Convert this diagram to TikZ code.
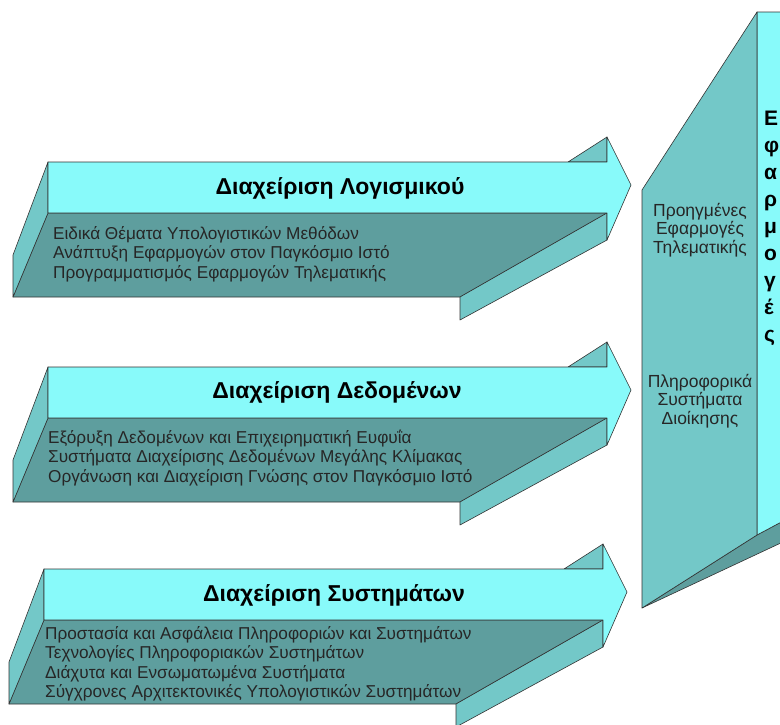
\documentclass[tikz,border=0pt]{standalone}
\usepackage{fontspec}
\setmainfont{Liberation Sans}
\usetikzlibrary{calc}

\definecolor{lightcyan}{RGB}{136,250,250}
\definecolor{midteal}{RGB}{115,200,200}
\definecolor{darkteal}{RGB}{94,158,158}

\begin{document}
\begin{tikzpicture}[x=1pt,y=-1pt,
    face/.style={draw=black!80,line width=0.6pt,line join=round},
    title/.style={font=\fontsize{23}{26}\selectfont\bfseries,inner sep=0pt},
    course/.style={font=\fontsize{17.2}{19.5}\selectfont,align=left,anchor=west,inner sep=0pt,text=black!85},
    blocktext/.style={font=\fontsize{17.5}{18.5}\selectfont,align=center,inner sep=0pt,text=black!85},
    sidetext/.style={font=\fontsize{21}{27}\selectfont\bfseries,align=left,anchor=north west,inner sep=0pt}]

    % Frame
    \useasboundingbox (0,0) rectangle (780,724);
    \clip (0,0) rectangle (780,724);

    % Three arrows (same outline, shifted down)
    \foreach \dx/\dy in {0/0, 0/205, -4/407}{
      \begin{scope}[shift={(\dx,\dy)}]
        % Bottom face
        \filldraw[face,fill=darkteal] (48,213) -- (607,213) -- (460,297) -- (13,297) -- cycle;
        % Side faces
        \filldraw[face,fill=midteal] (48,162) -- (48,213) -- (13,297) -- (13,255) -- cycle;
        \filldraw[face,fill=midteal] (607,213) -- (607,240) -- (460,320) -- (460,297) -- cycle;
        \filldraw[face,fill=midteal] (568,162) -- (607,137) -- (607,162) -- cycle;
        % Front face
        \filldraw[face,fill=lightcyan] (48,162) -- (607,162) -- (607,137) -- (631,185)
          -- (607,240) -- (607,213) -- (48,213) -- cycle;
      \end{scope}
    }

    % Block on the right
    \coordinate (B1) at (642,190);
    \coordinate (B2) at (757,12);
    \coordinate (B3) at (757,535);
    \coordinate (B4) at (642,608);
    \filldraw[face,fill=darkteal] (B4) -- (B3) -- (800,512) -- (800,534) -- cycle;
    \filldraw[face,fill=lightcyan] (B2) -- (800,12) -- (800,512) -- (B3) -- cycle;
    \filldraw[face,fill=midteal] (B1) -- (B2) -- (B3) -- (B4) -- cycle;

    % Titles
    \node[title] (sw)   at (340,188) {Διαχείριση Λογισμικού};
    \node[title] (data) at (337,392) {Διαχείριση Δεδομένων};
    \node[title] (sys)  at (334,595) {Διαχείριση Συστημάτων};

    % Courses
    \node[course] (swc) at (53,254) {Ειδικά Θέματα Υπολογιστικών Μεθόδων\\
      Ανάπτυξη Εφαρμογών στον Παγκόσμιο Ιστό\\
      Προγραμματισμός Εφαρμογών Τηλεματικής};
    \node[course] (datac) at (48,458) {Εξόρυξη Δεδομένων και Επιχειρηματική Ευφυΐα\\
      Συστήματα Διαχείρισης Δεδομένων Μεγάλης Κλίμακας\\
      Οργάνωση και Διαχείριση Γνώσης στον Παγκόσμιο Ιστό};
    \node[course] (sysc) at (45,664) {Προστασία και Ασφάλεια Πληροφοριών και Συστημάτων\\
      Τεχνολογίες Πληροφοριακών Συστημάτων\\
      Διάχυτα και Ενσωματωμένα Συστήματα\\
      Σύγχρονες Αρχιτεκτονικές Υπολογιστικών Συστημάτων};

    % Block texts
    \node[blocktext] (adv) at (700,230) {Προηγμένες\\Εφαρμογές\\Τηλεματικής};
    \node[blocktext] (mis) at (700,401) {Πληροφορικά\\Συστήματα\\Διοίκησης};
    \node[sidetext] (apps) at (764,111) {Ε\\φ\\α\\ρ\\μ\\ο\\γ\\έ\\ς};
  \end{tikzpicture}
\end{document}
